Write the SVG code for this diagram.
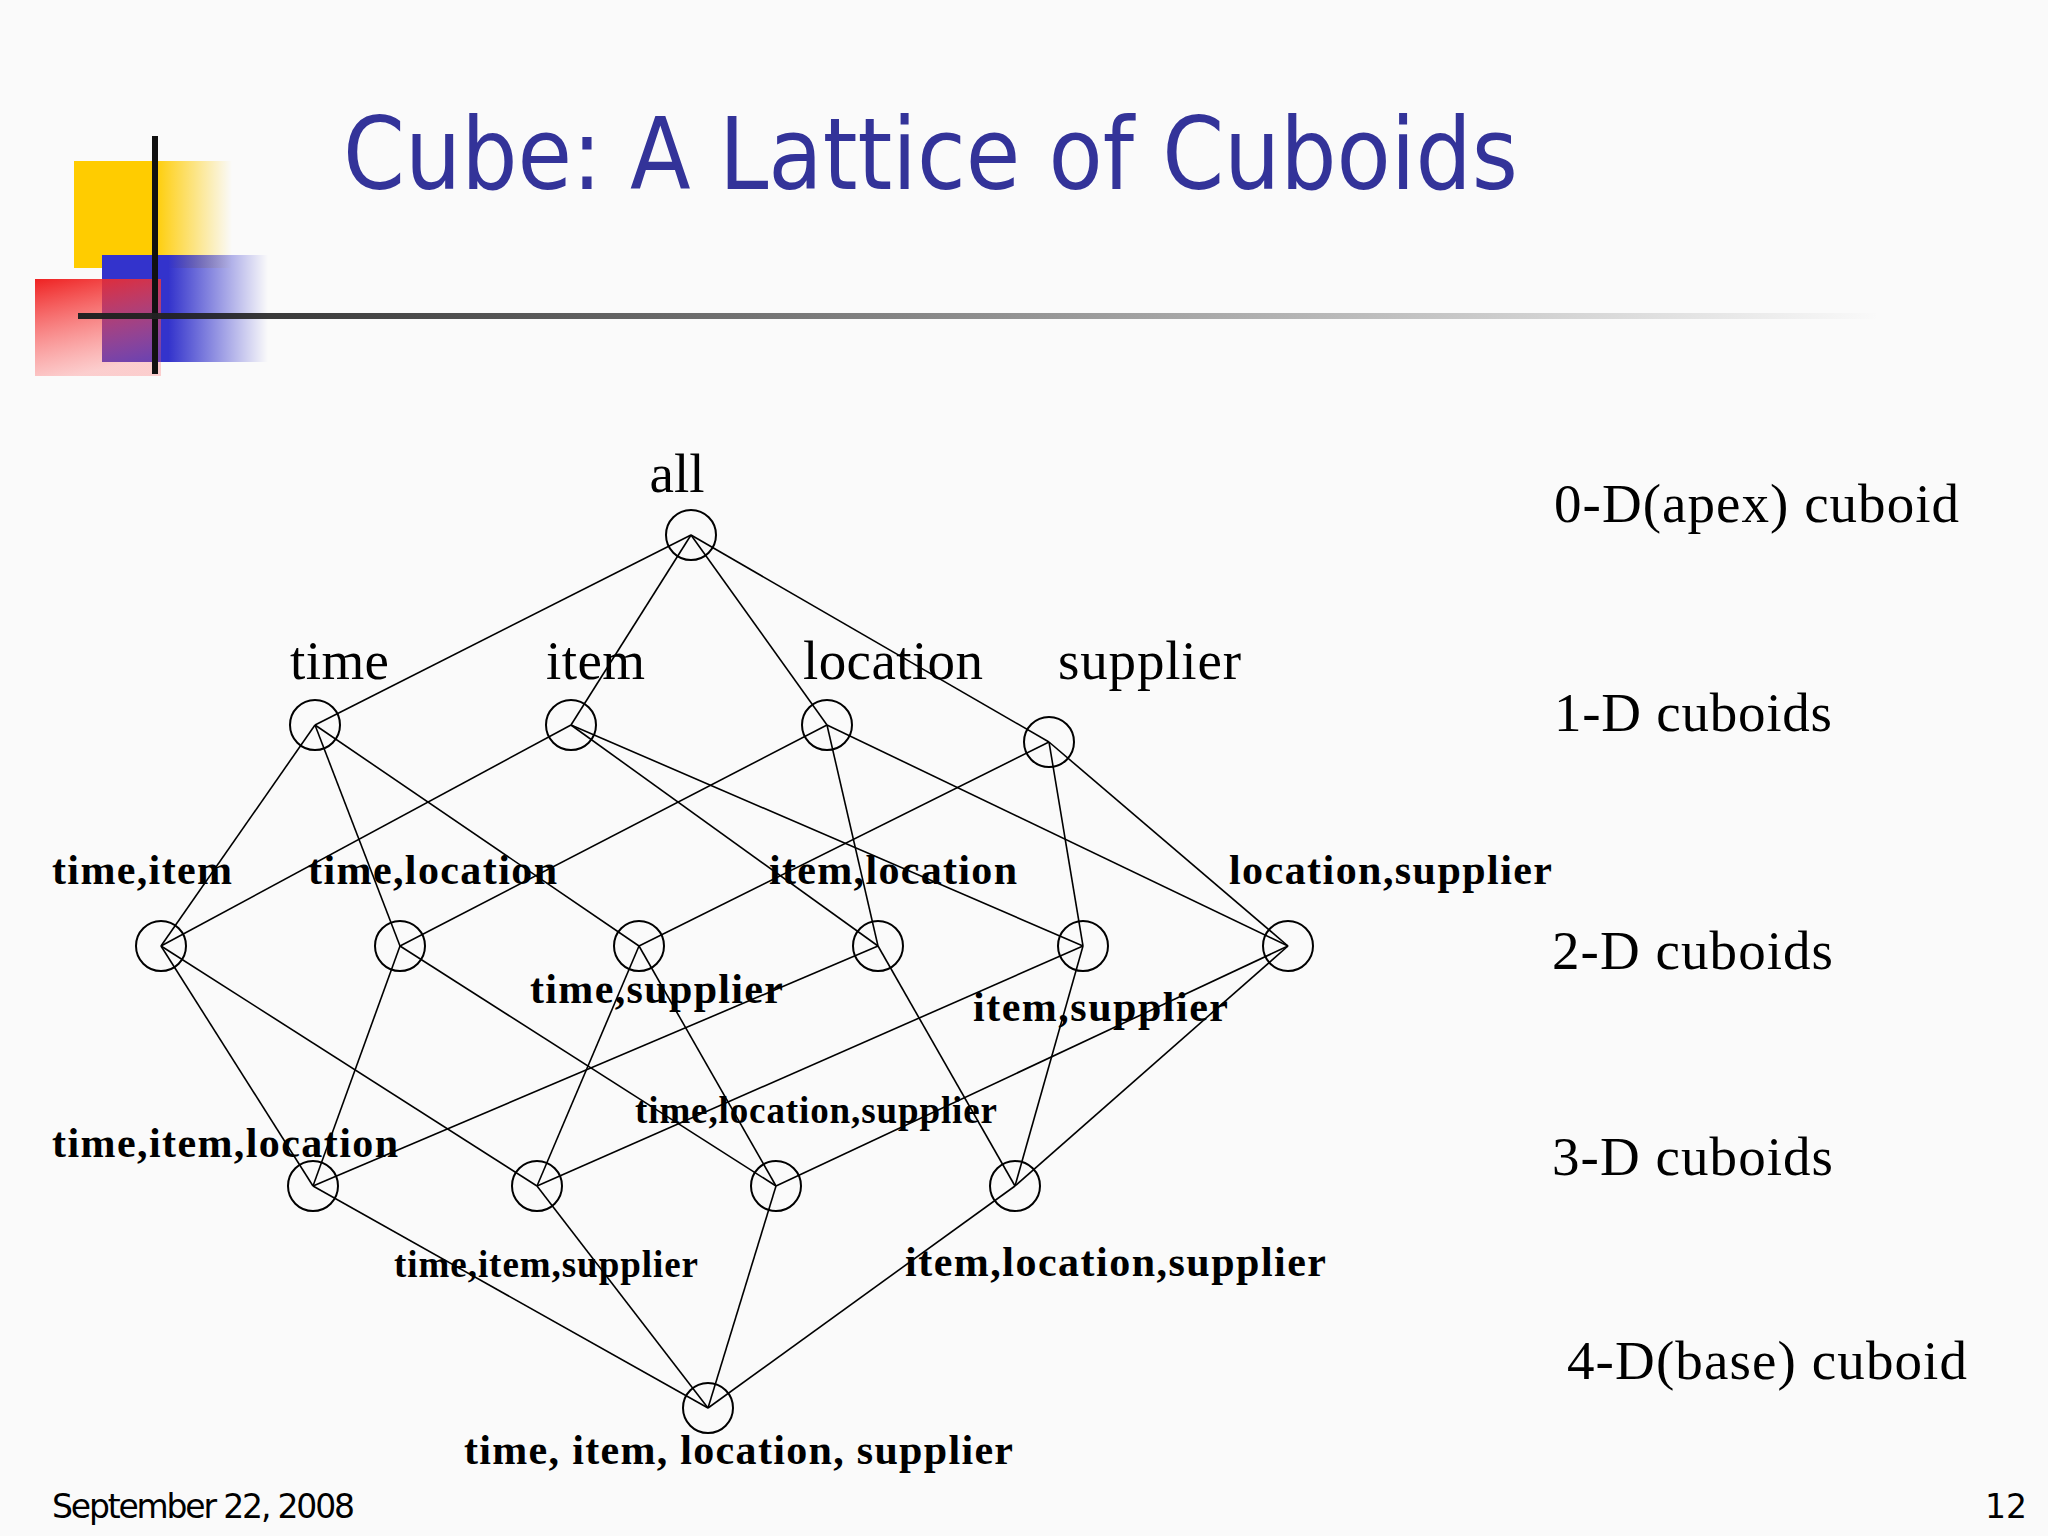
<svg xmlns="http://www.w3.org/2000/svg" width="2048" height="1536" viewBox="0 0 2048 1536">
<defs>
<linearGradient id="gy" x1="0" x2="1"><stop offset="0.5" stop-color="#ffcc00"/><stop offset="1" stop-color="#ffcc00" stop-opacity="0"/></linearGradient>
<linearGradient id="gb" x1="0" x2="1"><stop offset="0.4" stop-color="#3333cc"/><stop offset="1" stop-color="#3333cc" stop-opacity="0"/></linearGradient>
<linearGradient id="gr" x1="0" y1="0" x2="0.3" y2="1"><stop offset="0" stop-color="#ee2222"/><stop offset="1" stop-color="#ff6666" stop-opacity="0.3"/></linearGradient>
<linearGradient id="gl" x1="0" x2="1"><stop offset="0" stop-color="#222"/><stop offset="1" stop-color="#222" stop-opacity="0"/></linearGradient>
<style>
.n{fill:none;stroke:#000;stroke-width:2}
.c line{stroke:#000;stroke-width:1.6}
.l{font-family:"Liberation Serif",serif;font-size:55px;fill:#000}
.b{font-family:"Liberation Serif",serif;font-size:42px;font-weight:bold;fill:#000}
.s{font-family:"Liberation Serif",serif;font-size:37px;font-weight:bold;fill:#000}
</style>
</defs>
<rect width="2048" height="1536" fill="#fafafa"/>
<rect x="74" y="161" width="158" height="107" fill="url(#gy)"/>
<rect x="102" y="255" width="166" height="107" fill="url(#gb)"/>
<rect x="35" y="279" width="126" height="97" fill="url(#gr)"/>
<line x1="155" y1="136" x2="155" y2="374" stroke="#111" stroke-width="6"/>
<rect x="78" y="313" width="1802" height="6" fill="url(#gl)"/>
<text x="343" y="189" font-family="DejaVu Sans,sans-serif" font-size="100" fill="#333399" textLength="1175" lengthAdjust="spacingAndGlyphs">Cube: A Lattice of Cuboids</text>
<g class="c" id="connectors">
<line x1="691" y1="535" x2="315" y2="725"/><line x1="691" y1="535" x2="571" y2="725"/><line x1="691" y1="535" x2="827" y2="725"/><line x1="691" y1="535" x2="1049" y2="742"/>
<line x1="315" y1="725" x2="161" y2="946"/><line x1="315" y1="725" x2="400" y2="946"/><line x1="315" y1="725" x2="639" y2="946"/>
<line x1="571" y1="725" x2="161" y2="946"/><line x1="571" y1="725" x2="878" y2="946"/><line x1="571" y1="725" x2="1083" y2="946"/>
<line x1="827" y1="725" x2="400" y2="946"/><line x1="827" y1="725" x2="878" y2="946"/><line x1="827" y1="725" x2="1288" y2="946"/>
<line x1="1049" y1="742" x2="639" y2="946"/><line x1="1049" y1="742" x2="1083" y2="946"/><line x1="1049" y1="742" x2="1288" y2="946"/>
<line x1="161" y1="946" x2="313" y2="1186"/><line x1="161" y1="946" x2="537" y2="1186"/>
<line x1="400" y1="946" x2="313" y2="1186"/><line x1="400" y1="946" x2="776" y2="1186"/>
<line x1="639" y1="946" x2="537" y2="1186"/><line x1="639" y1="946" x2="776" y2="1186"/>
<line x1="878" y1="946" x2="313" y2="1186"/><line x1="878" y1="946" x2="1015" y2="1186"/>
<line x1="1083" y1="946" x2="537" y2="1186"/><line x1="1083" y1="946" x2="1015" y2="1186"/>
<line x1="1288" y1="946" x2="776" y2="1186"/><line x1="1288" y1="946" x2="1015" y2="1186"/>
<line x1="313" y1="1186" x2="708" y2="1408"/><line x1="537" y1="1186" x2="708" y2="1408"/><line x1="776" y1="1186" x2="708" y2="1408"/><line x1="1015" y1="1186" x2="708" y2="1408"/>
</g>
<g id="all"><circle class="n" cx="691" cy="535" r="25"/><text class="l" x="677" y="492" text-anchor="middle">all</text></g>
<g id="time"><circle class="n" cx="315" cy="725" r="25"/><text class="l" x="290" y="679" textLength="99">time</text></g>
<g id="item"><circle class="n" cx="571" cy="725" r="25"/><text class="l" x="546" y="679" textLength="99">item</text></g>
<g id="location"><circle class="n" cx="827" cy="725" r="25"/><text class="l" x="803" y="679" textLength="180">location</text></g>
<g id="supplier"><circle class="n" cx="1049" cy="742" r="25"/><text class="l" x="1058" y="679" textLength="183">supplier</text></g>
<g id="ti"><circle class="n" cx="161" cy="946" r="25"/><text class="b" x="52" y="884" textLength="180">time,item</text></g>
<g id="tl"><circle class="n" cx="400" cy="946" r="25"/><text class="b" x="308" y="884" textLength="249">time,location</text></g>
<g id="ts"><circle class="n" cx="639" cy="946" r="25"/><text class="b" x="530" y="1003" textLength="253">time,supplier</text></g>
<g id="il"><circle class="n" cx="878" cy="946" r="25"/><text class="b" x="769" y="884" textLength="248">item,location</text></g>
<g id="is"><circle class="n" cx="1083" cy="946" r="25"/><text class="b" x="973" y="1021" textLength="255">item,supplier</text></g>
<g id="ls"><circle class="n" cx="1288" cy="946" r="25"/><text class="b" x="1229" y="884" textLength="323">location,supplier</text></g>
<g id="til"><circle class="n" cx="313" cy="1186" r="25"/><text class="b" x="52" y="1157" textLength="346">time,item,location</text></g>
<g id="tis"><circle class="n" cx="537" cy="1186" r="25"/><text class="s" x="394" y="1277" textLength="304">time,item,supplier</text></g>
<g id="tls"><circle class="n" cx="776" cy="1186" r="25"/><text class="s" x="635" y="1123" textLength="362">time,location,supplier</text></g>
<g id="ils"><circle class="n" cx="1015" cy="1186" r="25"/><text class="b" x="905" y="1276" textLength="421">item,location,supplier</text></g>
<g id="base"><circle class="n" cx="708" cy="1408" r="25"/><text class="b" x="464" y="1464" textLength="549">time, item, location, supplier</text></g>
<g id="levels">
<text class="l" x="1554" y="522" textLength="405">0-D(apex) cuboid</text>
<text class="l" x="1554" y="731" textLength="278">1-D cuboids</text>
<text class="l" x="1552" y="969" textLength="281">2-D cuboids</text>
<text class="l" x="1552" y="1175" textLength="281">3-D cuboids</text>
<text class="l" x="1567" y="1379" textLength="400">4-D(base) cuboid</text>
</g>
<text x="52" y="1518" font-family="DejaVu Sans,sans-serif" font-size="33" fill="#000" textLength="303">September 22, 2008</text>
<text x="2027" y="1518" font-family="DejaVu Sans,sans-serif" font-size="33" fill="#000" text-anchor="end">12</text>
</svg>
